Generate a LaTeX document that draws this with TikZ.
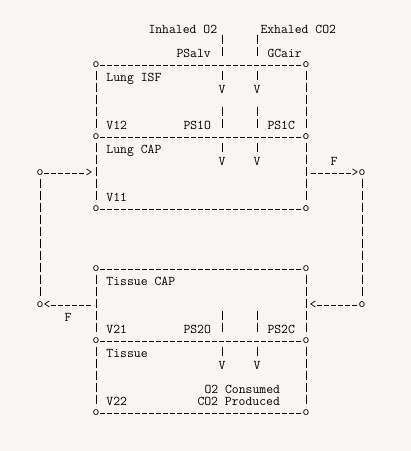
\documentclass[tikz,border=0pt]{standalone}
\definecolor{paper}{RGB}{248,245,243}
\tikzset{
  asc/.style={inner sep=0, outer sep=0},
  lbl/.style={asc, anchor=base west, xshift=-3.5pt, yshift=-4.07pt},
  gly/.style={asc, anchor=center},
  hrun/.style={line width=0.8pt, dash pattern=on 5pt off 2pt, dash phase=6pt},
  vrun/.style={line width=0.8pt, dash pattern=on 9.5pt off 2.5pt},
  tick/.style={line width=0.8pt}
}
\begin{document}
\begin{tikzpicture}[x=7pt, y=-12pt, font=\fontsize{13.33}{12}\selectfont\ttfamily]
		\path[use as bounding box, fill=paper] (-5.7143,-2.4167) rectangle (53,35.1667);
		% gas exchange at the top
		\node (inhaled)[lbl] at (16,0) {Inhaled O2};
		\node (exhaled)[lbl] at (32,0) {Exhaled CO2};
		\node (psalv)[lbl] at (20,2) {PSalv};
		\node (gcair)[lbl] at (33,2) {GCair};
		%
		\node (isfNW)[gly] at (8,3) {o};
		\node (isfNE)[gly] at (38,3) {o};
		\node (midW)[gly] at (8,9) {o};
		\node (midE)[gly] at (38,9) {o};
		\node (capSW)[gly] at (8,15) {o};
		\node (capSE)[gly] at (38,15) {o};
		\node (lungisf)[lbl] at (10,4) {Lung ISF};
		\node (v12)[lbl] at (10,8) {V12};
		\node (ps1o)[lbl] at (21,8) {PS1O};
		\node (ps1c)[lbl] at (33,8) {PS1C};
		\node (lungcap)[lbl] at (10,10) {Lung CAP};
		\node (v11)[lbl] at (10,14) {V11};
		\node (vO2isf)[gly] at (26,5) {V};
		\node (vCO2isf)[gly] at (31,5) {V};
		\node (vO2cap)[gly] at (26,11) {V};
		\node (vCO2cap)[gly] at (31,11) {V};
		%
		\node (tcapNW)[gly] at (8,20) {o};
		\node (tcapNE)[gly] at (38,20) {o};
		\node (tisNW)[gly] at (8,26) {o};
		\node (tisNE)[gly] at (38,26) {o};
		\node (tisSW)[gly] at (8,32) {o};
		\node (tisSE)[gly] at (38,32) {o};
		\node (tisscap)[lbl] at (10,21) {Tissue CAP};
		\node (v21)[lbl] at (10,25) {V21};
		\node (ps2o)[lbl] at (21,25) {PS2O};
		\node (ps2c)[lbl] at (33,25) {PS2C};
		\node (tissue)[lbl] at (10,27) {Tissue};
		\node (o2used)[lbl] at (24,30) {O2 Consumed};
		\node (v22)[lbl] at (10,31) {V22};
		\node (co2made)[lbl] at (23,31) {CO2 Produced};
		\node (vO2tis)[gly] at (26,28) {V};
		\node (vCO2tis)[gly] at (31,28) {V};
		% blood flow loop
		\node (venIn)[gly] at (0,12) {o};
		\node (inArr)[gly] at (7,12) {>};
		\node (outArr)[gly] at (45,12) {>};
		\node (artOut)[gly] at (46,12) {o};
		\node (artIn)[gly] at (46,23) {o};
		\node (retArr)[gly] at (39,23) {<};
		\node (leaveArr)[gly] at (1,23) {<};
		\node (venOut)[gly] at (0,23) {o};
		\node (fout)[lbl] at (42,11) {F};
		\node (fin)[lbl] at (4,24) {F};
		\coordinate (capE) at (38.5,12);
		\coordinate (tcapW) at (7.5,23);
		%
		\draw[hrun] (isfNW)--(isfNE);
		\draw[hrun] (midW)--(midE);
		\draw[hrun] (capSW)--(capSE);
		\draw[hrun] (tcapNW)--(tcapNE);
		\draw[hrun] (tisNW)--(tisNE);
		\draw[hrun] (tisSW)--(tisSE);
		\draw[hrun] (venIn)--(inArr);
		\draw[hrun] (capE)--(outArr);
		\draw[hrun] (retArr)--(artIn);
		\draw[hrun] (leaveArr)--(tcapW);
		%
		\draw[vrun] ([yshift=-5.5pt]isfNW.center)--([yshift=6.5pt]midW.center);
		\draw[vrun] ([yshift=-5.5pt]midW.center)--([yshift=6.5pt]capSW.center);
		\draw[vrun] ([yshift=-5.5pt]isfNE.center)--([yshift=6.5pt]midE.center);
		\draw[vrun] ([yshift=-5.5pt]midE.center)--([yshift=6.5pt]capSE.center);
		\draw[vrun] ([yshift=-5.5pt]tcapNW.center)--([yshift=6.5pt]tisNW.center);
		\draw[vrun] ([yshift=-5.5pt]tisNW.center)--([yshift=6.5pt]tisSW.center);
		\draw[vrun] ([yshift=-5.5pt]tcapNE.center)--([yshift=6.5pt]tisNE.center);
		\draw[vrun] ([yshift=-5.5pt]tisNE.center)--([yshift=6.5pt]tisSE.center);
		\draw[vrun] ([yshift=-5.5pt]venIn.center)--([yshift=6.5pt]venOut.center);
		\draw[vrun] ([yshift=-5.5pt]artOut.center)--([yshift=6.5pt]artIn.center);
		% O2 and CO2 paths through the walls
		\foreach \c in {26,31}
			\foreach \r in {1,2,4,7,8,10,24,25,27}
				\draw[tick] (\c,\r) ++(0,-0.5417) -- ++(0,0.7917);
	\end{tikzpicture}
\end{document}
